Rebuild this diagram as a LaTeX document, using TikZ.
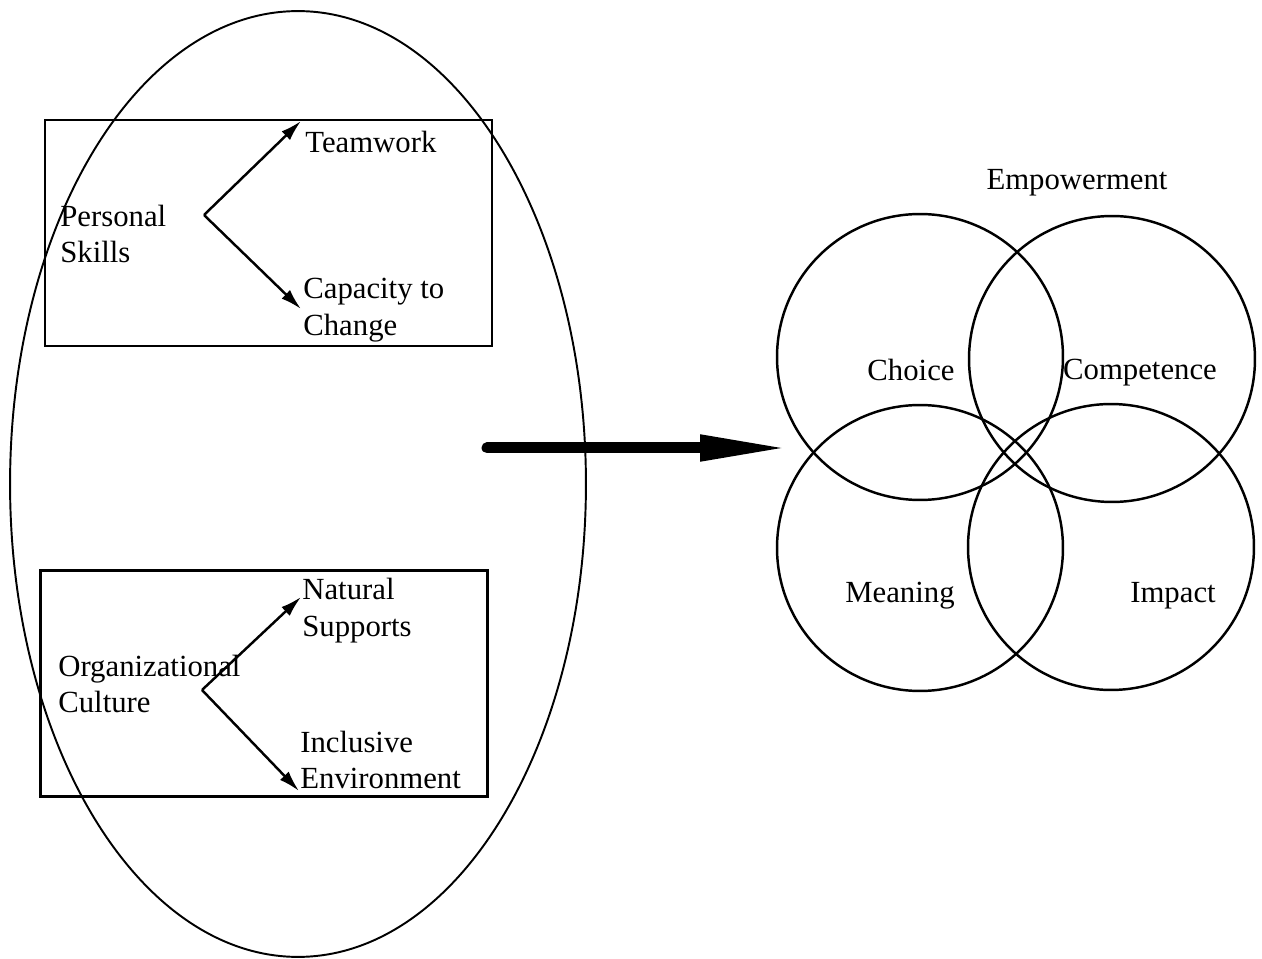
\documentclass[tikz,border=0pt]{standalone}
\usepackage{fontspec}
\setmainfont{Liberation Serif}
\usepackage{tikz}
\usetikzlibrary{arrows.meta, positioning}

\begin{document}
\begin{tikzpicture}[
    x=0.02cm, y=-0.02cm,
    lbl/.style={inner sep=0pt, align=left, font=\fontsize{17.5}{21}\selectfont},
    panel/.style={rectangle, draw, line width=1.4pt, minimum width=8.94cm, minimum height=4.52cm, inner sep=0pt},
    ring/.style={circle, draw, line width=1.4pt, minimum size=5.72cm, inner sep=0pt},
    arr/.style={-{Latex[length=0.42cm, width=0.24cm]}, line width=1.4pt},
    bigarr/.style={-{Triangle[length=1.8cm, width=0.48cm]}, line width=0.22cm, line cap=round}
]
\useasboundingbox (0,0) rectangle (1262,959);

% Left ellipse
\draw[line width=1.1pt] (298,484) ellipse [x radius=5.76cm, y radius=9.46cm];

% Boxes
\node[panel] (skillbox) at (268.5,233) {};
\node[panel] (culturebox) at (264,683.5) {};

% Personal skills
\node[lbl, anchor=west] (skills) at (60,234) {Personal\\Skills};
\node[lbl, anchor=west] (team) at (305,142) {Teamwork};
\node[lbl, anchor=west] (change) at (303,310) {Capacity to\\Change};
\coordinate (fork1) at (204,215);
\coordinate (tip1) at (301,121);
\coordinate (tip2) at (301,309);
\draw[arr] (fork1) -- (tip1);
\draw[arr] (fork1) -- (tip2);

% Organizational culture
\node[lbl, anchor=west] (culture) at (58,684) {Organizational\\Culture};
\node[lbl, anchor=west] (natural) at (302,611) {Natural\\Supports};
\node[lbl, anchor=west] (inclusive) at (300,760) {Inclusive\\Environment};
\coordinate (fork2) at (202,690);
\coordinate (tip3) at (301,597);
\coordinate (tip4) at (299,791);
\draw[arr] (fork2) -- (tip3);
\draw[arr] (fork2) -- (tip4);

% Big arrow
\coordinate (from) at (487,448);
\coordinate (to) at (790,448);
\draw[bigarr] (from) -- (to);

% Empowerment circles
\node[lbl] (emp) at (1077,183) {Empowerment};
\node[ring] (choicering) at (920,357) {};
\node[ring] (compring) at (1112,359) {};
\node[ring] (meanring) at (920,548) {};
\node[ring] (impring) at (1111,547) {};
\node[lbl] (choice) at (911,370) {Choice};
\node[lbl] (comp) at (1140,373) {Competence};
\node[lbl] (mean) at (900,596) {Meaning};
\node[lbl] (impact) at (1173,596) {Impact};

\end{tikzpicture}
\end{document}
